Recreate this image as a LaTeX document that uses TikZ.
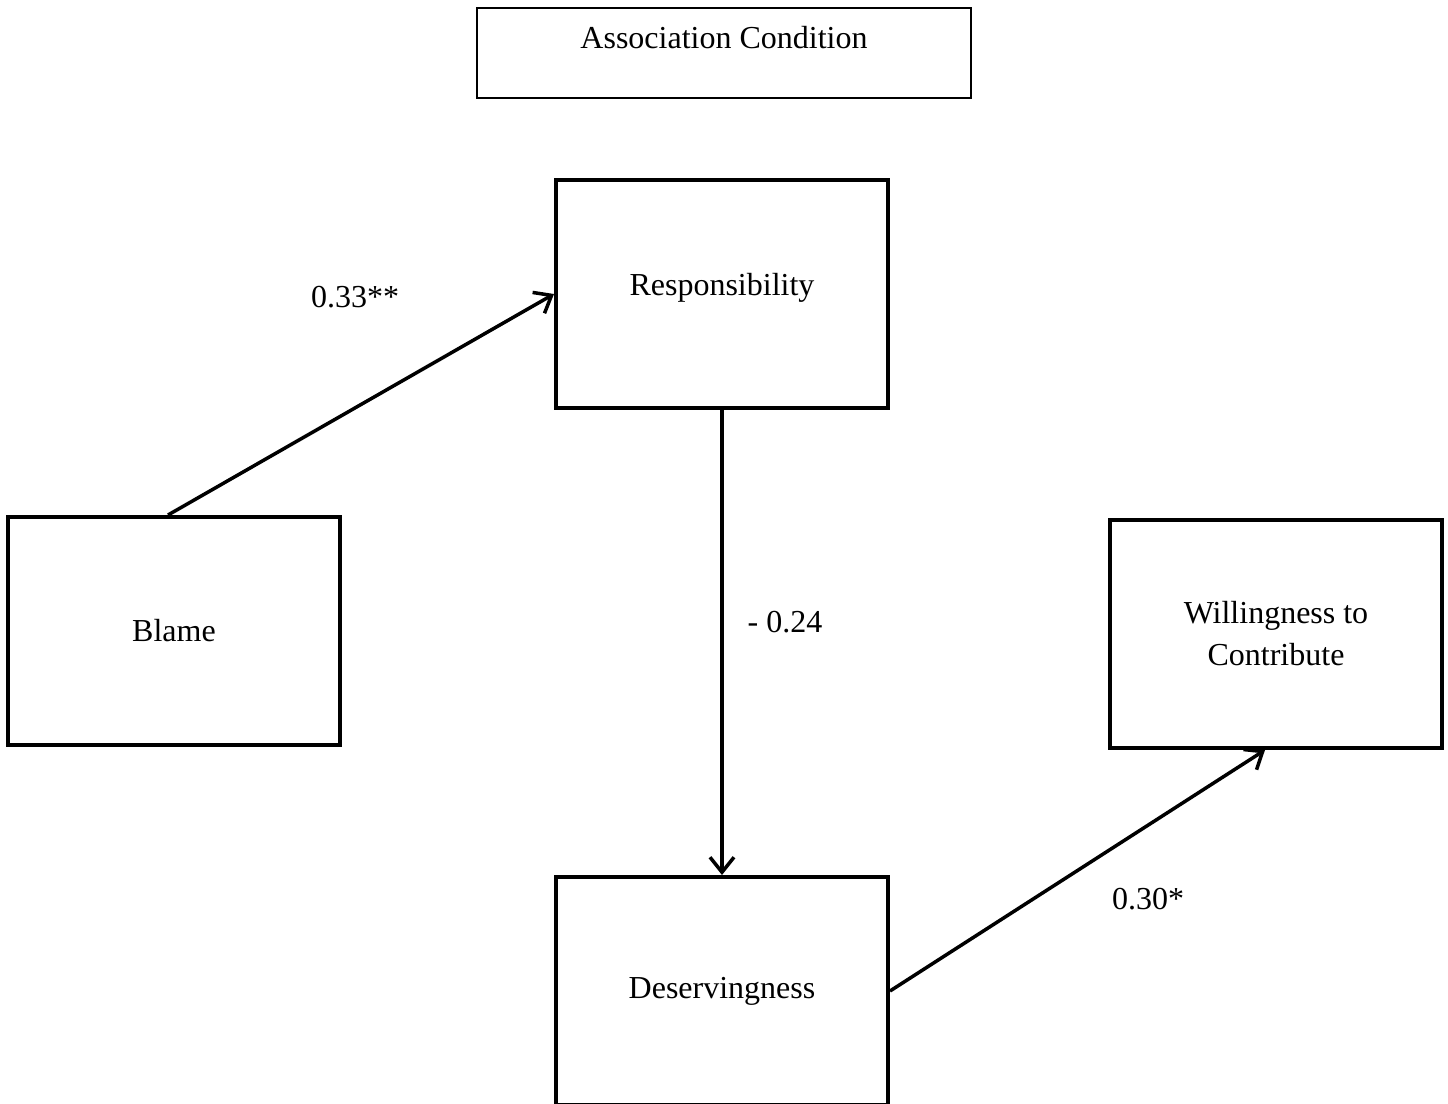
\documentclass[tikz,border=0pt]{standalone}
\usepackage{fontspec}
\setmainfont{Liberation Serif}
\usetikzlibrary{arrows.meta,positioning}

\tikzset{
    varbox/.style={draw, line width=2pt, minimum width=166pt, minimum height=114pt, inner sep=0pt, align=center},
    link/.style={-{Straight Barb[length=7.5pt,width=12pt]}, line width=1.75pt},
    coef/.style={inner sep=0pt}
}

\begin{document}
\begin{tikzpicture}[x=0.5pt, y=-0.5pt, font=\fontsize{16pt}{21pt}\selectfont]
    % Fix the page to the reference size
    \useasboundingbox (0,0) rectangle (1448,1104);

    % Title
    \node[draw, line width=0.75pt, minimum width=247pt, minimum height=45pt, inner sep=0pt,
          text height=11pt, text depth=15.5pt] (title) at (724,53) {Association Condition};

    % Variables
    \node[varbox, text depth=10pt] (resp) at (722,294) {Responsibility};
    \node[varbox] (blame) at (174,631) {Blame};
    \node[varbox] (des) at (722,991) {Deservingness};
    \node[varbox] (will) at (1276,634) {Willingness to\\Contribute};

    % Paths
    \draw[link] ([xshift=-3pt]blame.north) -- (resp.west);
    \draw[link] (resp.south) -- (des.north);
    \draw[link] (des.east) -- ([xshift=-5.5pt]will.south);

    % Coefficients
    \node[coef] (c1) at (355,297) {0.33**};
    \node[coef] (c2) at (785,622) {- 0.24};
    \node[coef] (c3) at (1148,899) {0.30*};
\end{tikzpicture}
\end{document}
